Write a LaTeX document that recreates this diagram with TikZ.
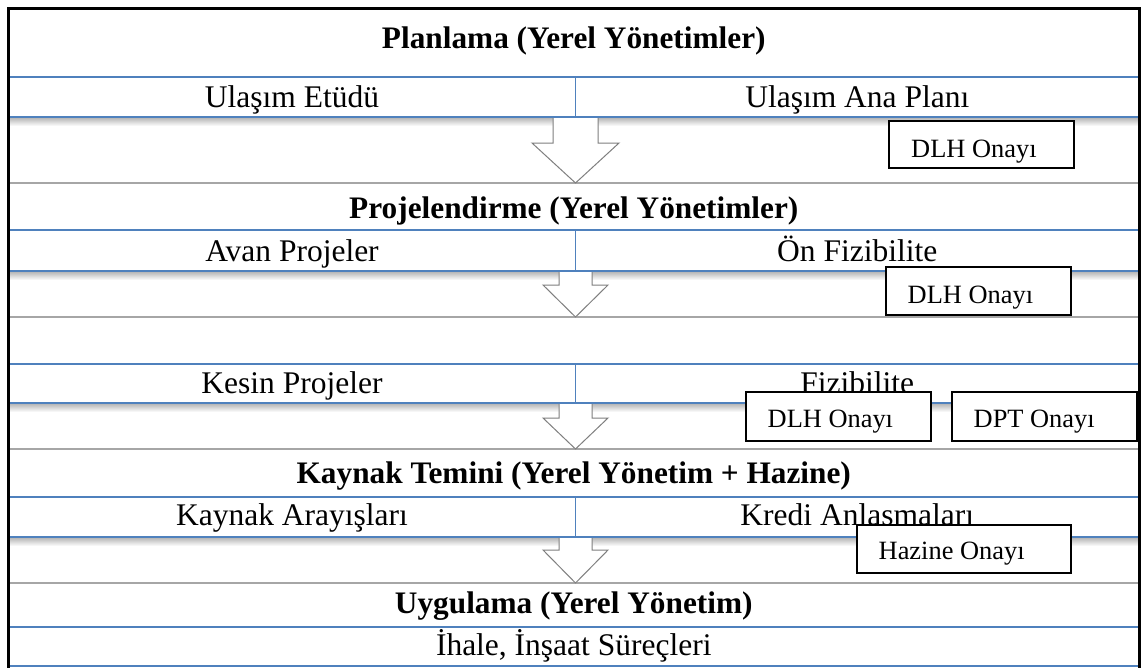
\documentclass[tikz,border=0pt]{standalone}
\usepackage{fontspec}
\setmainfont{Liberation Serif}
\usetikzlibrary{calc}
\definecolor{rowblue}{HTML}{4F81BD}
\definecolor{bandgray}{HTML}{A6A6A6}
\definecolor{arrowgray}{HTML}{7F7F7F}

% block arrow from the bottom of a row (#1) down to the top of a band (#2);
% #3 half shaft width, #4 half head width, #5 head length
\newcommand\flowarrow[5]{%
  \path let \p1=(#1), \p2=(#2) in
    [draw=arrowgray, line width=1pt, fill=white, line join=miter]
    (\x1-#3pt,\y1) -- (\x1-#3pt,\y2+#5pt) -- (\x1-#4pt,\y2+#5pt) -- (\x1,\y2)
    -- (\x1+#4pt,\y2+#5pt) -- (\x1+#3pt,\y2+#5pt) -- (\x1+#3pt,\y1);}

% soft shadow under a row
\newcommand\rowshadow[1]{%
  \shade[top color=gray!55, bottom color=white] (8.5,#1+1) rectangle (1139,#1+9);}

\begin{document}
\begin{tikzpicture}[x=1pt,y=-1pt,
  band/.style={draw=bandgray, line width=1.2pt, fill=white, inner sep=0pt, outer sep=0pt,
    minimum width=1130.5pt, text depth=0pt,
    font=\fontsize{31.3}{36}\selectfont\bfseries},
  cell/.style={draw=rowblue, line width=1.8pt, fill=white, inner sep=0pt, outer sep=0pt,
    text depth=0pt, font=\fontsize{31.5}{36}\selectfont},
  lcell/.style={cell, minimum width=567pt},
  rcell/.style={cell, minimum width=563.5pt},
  approval/.style={draw=black, line width=1.2pt, fill=white, inner sep=0pt, outer sep=0pt,
    minimum width=185pt},
  approvaltext/.style={anchor=base west, inner sep=0pt, font=\fontsize{26.4}{30}\selectfont},
  frame/.style={draw=black, line width=3pt}
]
\useasboundingbox (0,0) rectangle (1147,667);
\fill[white] (0,0) rectangle (1147,667);

% stage bands
\node[band, minimum height=68.5pt, text height=10.5pt] (b1) at (573.75,42.75) {Planlama (Yerel Yönetimler)};
\node[band, minimum height=47pt, text height=23pt] (b2) at (573.75,206.5) {Projelendirme (Yerel Yönetimler)};
\node[band, minimum height=47pt] (b3) at (573.75,340.5) {};
\node[band, minimum height=48pt, text height=20pt] (b4) at (573.75,473) {Kaynak Temini (Yerel Yönetim + Hazine)};
\node[band, minimum height=44pt, text height=16pt] (b5) at (573.75,605) {Uygulama (Yerel Yönetim)};

% shadows under the rows
\rowshadow{117}
\rowshadow{271}
\rowshadow{403}
\rowshadow{537}

% rows of steps
\node[lcell, minimum height=40pt, text height=20pt] (r1l) at (292,97) {Ulaşım Etüdü};
\node[rcell, minimum height=40pt, text height=20pt] (r1r) at (857.25,97) {Ulaşım Ana Planı};
\node[lcell, minimum height=41pt, text height=21pt] (r2l) at (292,250.5) {Avan Projeler};
\node[rcell, minimum height=41pt, text height=21pt] (r2r) at (857.25,250.5) {Ön Fizibilite};
\node[lcell, minimum height=39pt, text height=19pt] (r3l) at (292,383.5) {Kesin Projeler};
\node[rcell, minimum height=39pt, text height=19pt] (r3r) at (857.25,383.5) {Fizibilite};
\node[lcell, minimum height=40pt, text height=16pt] (r4l) at (292,517) {Kaynak Arayışları};
\node[rcell, minimum height=40pt, text height=16pt] (r4r) at (857.25,517) {Kredi Anlasmaları};
\node[cell, minimum width=1130.5pt, minimum height=39pt, text height=17pt] (r5) at (573.75,646.5) {İhale, İnşaat Süreçleri};

% block arrows between the rows and the next stage
\begin{scope}[on background layer/.try]
\end{scope}
\flowarrow{r1l.south east}{b2.north}{22.5}{43.5}{40}
\flowarrow{r2l.south east}{b3.north}{16.5}{32.5}{32}
\flowarrow{r3l.south east}{b4.north}{16.5}{32.5}{31}
\flowarrow{r4l.south east}{b5.north}{16.5}{32.5}{33}
% redraw the bottom edges of the rows over the arrow tails
\foreach \r in {r1l,r1r,r2l,r2r,r3l,r3r,r4l,r4r}
  \draw[rowblue, line width=1.8pt] (\r.south west) -- (\r.south east);

% approvals
\node[approval, minimum height=47pt] (d1) at (981.5,144.5) {};
\node[approvaltext] (d1t) at ($(d1.west)+(22,12.5)$) {DLH Onayı};
\node[approval, minimum height=48pt] (d2) at (978.5,291) {};
\node[approvaltext] (d2t) at ($(d2.west)+(21.5,12)$) {DLH Onayı};
\node[approval, minimum height=49pt] (d3) at (838.5,416.5) {};
\node[approvaltext] (d3t) at ($(d3.west)+(21.5,10.5)$) {DLH Onayı};
\node[approval, minimum height=49pt] (d4) at (1044.5,416.5) {};
\node[approvaltext] (d4t) at ($(d4.west)+(21.5,10.5)$) {DPT Onayı};
\node[approval, minimum width=214pt, minimum height=48pt] (h1) at (964,549) {};
\node[approvaltext] (h1t) at ($(h1.west)+(21.5,10)$) {Hazine Onayı};

% outer frame
\draw[frame] (8.5,675) -- (8.5,8.5) -- (1139,8.5) -- (1139,675);
\end{tikzpicture}
\end{document}
